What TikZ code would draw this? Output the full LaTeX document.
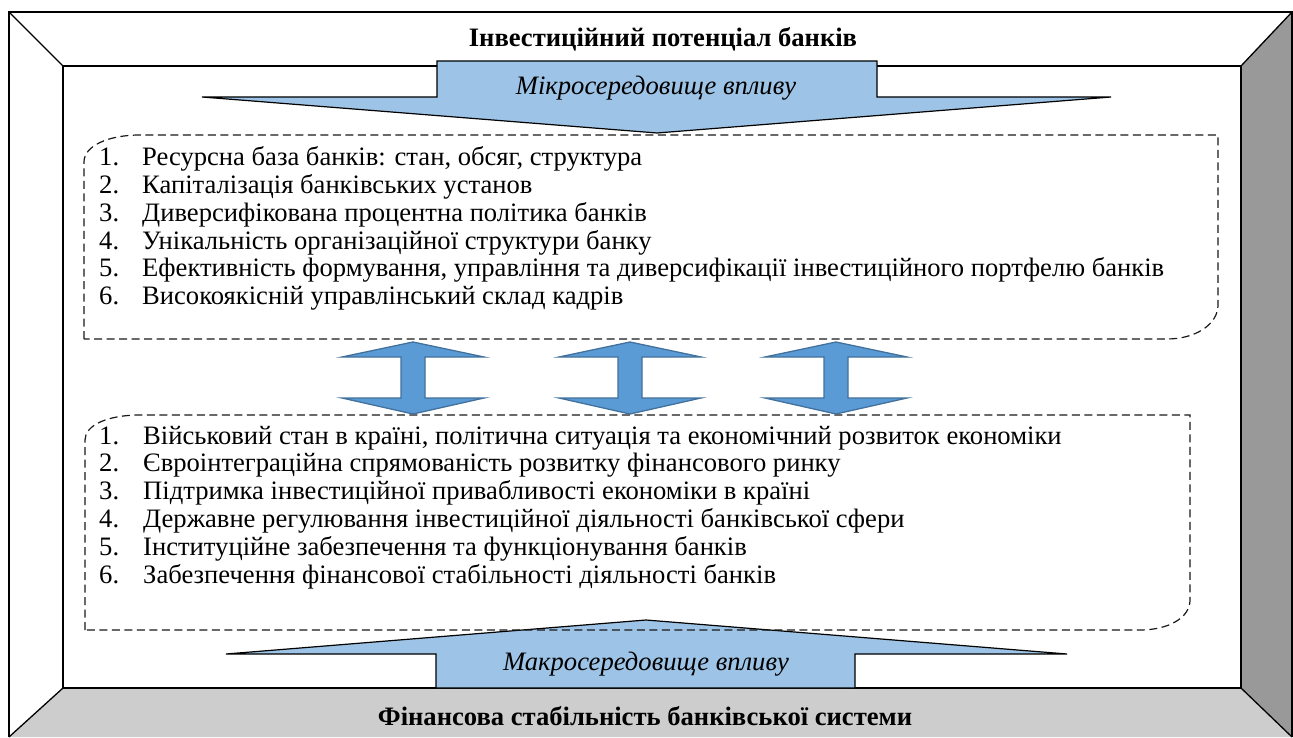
\documentclass[tikz,border=0pt]{standalone}
\usepackage{fontspec}
\setmainfont{Liberation Serif}
\definecolor{lightblue}{HTML}{9DC3E6}
\definecolor{arrowblue}{HTML}{5B9BD5}
\definecolor{arrowedge}{HTML}{41719C}
\definecolor{sidegray}{HTML}{999999}
\definecolor{floorgray}{HTML}{CDCDCD}
\tikzset{
  frameline/.style={draw=black, line width=1.3pt},
  dashbox/.style={draw=black!90, line width=1.2pt, dash pattern=on 8pt off 4.5pt},
  bigarrow/.style={draw=black, line width=1.2pt, fill=lightblue},
  dblarrow/.style={draw=arrowedge, line width=1.3pt, fill=arrowblue},
  itemnum/.style={anchor=base west, inner sep=0pt, font=\fontsize{26.6}{30}\selectfont},
  itemtext/.style={anchor=base west, inner sep=0pt, font=\fontsize{26.6}{30}\selectfont},
  titletext/.style={anchor=base, inner sep=0pt, font=\fontsize{26.6}{30}\selectfont\bfseries},
  arrowtext/.style={anchor=base, inner sep=0pt, font=\fontsize{26.6}{30}\selectfont\itshape}
}
\begin{document}
\begin{tikzpicture}[x=1pt,y=-1pt]
\useasboundingbox (0,0) rectangle (1293,738);
% frame coordinates
\coordinate (O1) at (9,12);
\coordinate (O2) at (1292,12);
\coordinate (O3) at (1292,737);
\coordinate (O4) at (9,737);
\coordinate (I1) at (63,66);
\coordinate (I2) at (1241,66);
\coordinate (I3) at (1241,688);
\coordinate (I4) at (63,688);
\fill[white] (O1) rectangle (O3);
\fill[sidegray] (I2) -- (O2) -- (O3) -- (I3) -- cycle;
\fill[floorgray] (I4) -- (I3) -- (O3) -- (O4) -- cycle;
\draw[frameline] (O4) -- (O1) -- (O2) -- (O3);
\draw[frameline] (I1) rectangle (I3);
\draw[frameline] (O1) -- (I1);
\draw[frameline] (O2) -- (I2);
\draw[frameline] (O3) -- (I3);
\draw[frameline] (O4) -- (I4);
% titles
\node[titletext] (ttop) at (663,47) {Інвестиційний потенціал банків};
\node[titletext] (tbot) at (645,725) {Фінансова стабільність банківської системи};
% top big arrow
\draw[bigarrow] (437,61) -- (877,61) -- (877,97) -- (1111,97) -- (657,133) -- (202,97) -- (437,97) -- cycle;
\node[arrowtext] (micro) at (656,95) {Мікросередовище впливу};
% bottom big arrow
\draw[bigarrow] (436,688) -- (436,654) -- (226,654) -- (646,620) -- (1067,654) -- (855,654) -- (855,688) -- cycle;
\node[arrowtext] (macro) at (646,670) {Макросередовище впливу};
% dashed boxes
\draw[dashbox] (84,339) -- (84,162) .. controls (84,146) and (108,135) .. (140,135) -- (1218,135) -- (1218,305) .. controls (1218,324) and (1196,339) .. (1167,339) -- cycle;
\draw[dashbox] (85,630) -- (85,440) .. controls (85,425) and (108,415) .. (140,415) -- (1190,415) -- (1190,600) .. controls (1190,618) and (1168,630) .. (1140,630) -- cycle;
% double arrows
\foreach \c/\n in {413/d1,630/d2,836/d3}{
  \draw[dblarrow] (\c,342) -- (\c+71,357) -- (\c+12,357) -- (\c+12,398) -- (\c+71,398) -- (\c,414) -- (\c-71,398) -- (\c-12,398) -- (\c-12,357) -- (\c-71,357) -- cycle;
}
% upper items
\node[itemnum] (un1) at (99,166) {1.};
\node[itemtext] (ut1) at (142,166) {Ресурсна база банків: стан, обсяг, структура};
\node[itemnum] (un2) at (99,193.7) {2.};
\node[itemtext] (ut2) at (142,193.7) {Капіталізація банківських установ};
\node[itemnum] (un3) at (99,221.4) {3.};
\node[itemtext] (ut3) at (142,221.4) {Диверсифікована процентна політика банків};
\node[itemnum] (un4) at (99,249.1) {4.};
\node[itemtext] (ut4) at (142,249.1) {Унікальність організаційної структури банку};
\node[itemnum] (un5) at (99,276.8) {5.};
\node[itemtext] (ut5) at (142,276.8) {Ефективність формування, управління та диверсифікації інвестиційного портфелю банків};
\node[itemnum] (un6) at (99,304.5) {6.};
\node[itemtext] (ut6) at (142,304.5) {Високоякісній управлінський склад кадрів};
% lower items
\node[itemnum] (ln1) at (99,444) {1.};
\node[itemtext] (lt1) at (143,444) {Військовий стан в країні, політична ситуація та економічний розвиток економіки};
\node[itemnum] (ln2) at (99,471.8) {2.};
\node[itemtext] (lt2) at (143,471.8) {Євроінтеграційна спрямованість розвитку фінансового ринку};
\node[itemnum] (ln3) at (99,499.6) {3.};
\node[itemtext] (lt3) at (143,499.6) {Підтримка інвестиційної привабливості економіки в країні};
\node[itemnum] (ln4) at (99,527.4) {4.};
\node[itemtext] (lt4) at (143,527.4) {Державне регулювання інвестиційної діяльності банківської сфери};
\node[itemnum] (ln5) at (99,555.2) {5.};
\node[itemtext] (lt5) at (143,555.2) {Інституційне забезпечення та функціонування банків};
\node[itemnum] (ln6) at (99,583) {6.};
\node[itemtext] (lt6) at (143,583) {Забезпечення фінансової стабільності діяльності банків};
\end{tikzpicture}
\end{document}
